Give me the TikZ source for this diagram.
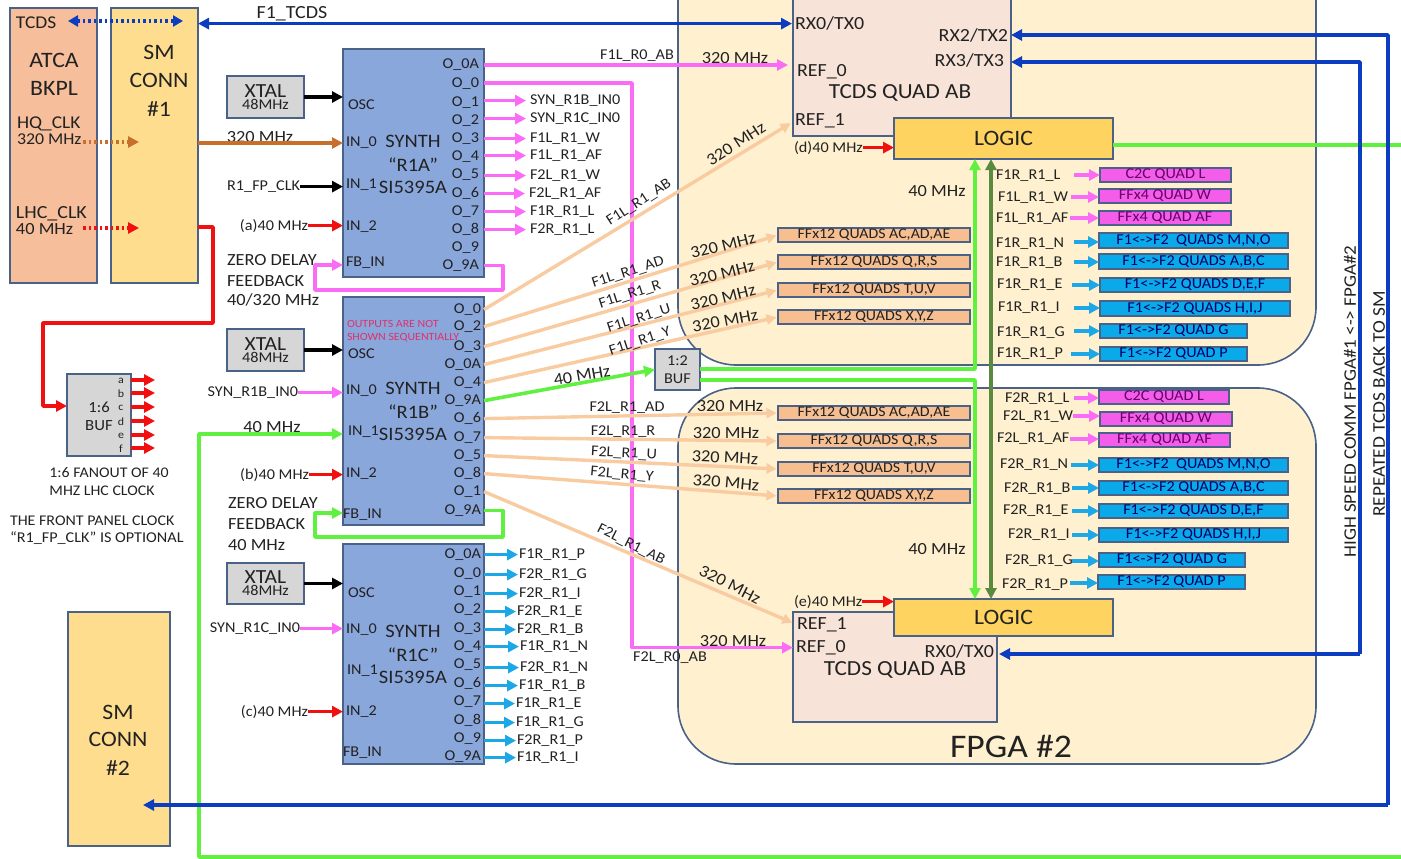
\documentclass[tikz,border=0pt]{standalone}
\usepackage{fontspec}
\setmainfont{Carlito}[FakeStretch=1.08]
\usetikzlibrary{arrows.meta,calc}
\catcode`\_=12
\definecolor{outl}{HTML}{4A6288}
\definecolor{ink}{HTML}{222222}
\definecolor{peach}{HTML}{F6BE9A}
\definecolor{smy}{HTML}{FFDD8E}
\definecolor{synb}{HTML}{8AA7DC}
\definecolor{gry}{HTML}{D6D6D6}
\definecolor{fpga}{HTML}{FFF0CF}
\definecolor{tcq}{HTML}{F8E3D8}
\definecolor{logc}{HTML}{FFD35F}
\definecolor{ffq}{HTML}{F7BE8F}
\definecolor{mag}{HTML}{F45CEA}
\definecolor{cyb}{HTML}{09A9EA}
\definecolor{pnk}{HTML}{FB6CF6}
\definecolor{org}{HTML}{F9CBA0}
\definecolor{brn}{HTML}{C6702C}
\definecolor{lgrn}{HTML}{60F040}
\definecolor{dgrn}{HTML}{5A8A42}
\definecolor{blu}{HTML}{0C3CC0}
\definecolor{cyn}{HTML}{1CA8E6}
\definecolor{rd}{HTML}{F01010}
\definecolor{crim}{HTML}{E0306A}
\tikzset{
  bxs/.style={draw=outl,line width=1.6pt,inner sep=0pt,outer sep=0pt,text=ink,align=center},
  txt/.style={inner sep=0pt,outer sep=0pt,text=ink,align=left,yshift=-0.6pt},
  tip/.style={-{Triangle[length=#1,width=#1]}},
  tip/.default=11pt,
  pinka/.style={tip,draw=pnk,line width=3.4pt},
  orga/.style={tip=10pt,draw=org,line width=3.4pt,shorten >=1.5pt},
  cyna/.style={tip,draw=cyn,line width=3.4pt},
  reda/.style={tip,draw=rd,line width=3.4pt},
  blka/.style={tip,draw=black,line width=3.4pt},
  grna/.style={tip,draw=lgrn,line width=3.6pt},
  blua/.style={tip,draw=blu,line width=3.4pt},
}
\newcounter{fe}
\newcommand\boxn[7][]{\pgfmathsetmacro\bcx{(#3+#5)/2}\pgfmathsetmacro\bcy{(#4+#6)/2}\pgfmathsetmacro\bw{#5-#3}\pgfmathsetmacro\bh{#6-#4}%
  \node[bxs,minimum width=\bw pt,minimum height=\bh pt,#1] (#2) at (\bcx,\bcy) {#7};}
\newcommand\tlab[6][]{\node[txt,anchor=west,font=\fontsize{#5}{#5}\selectfont,#1] (#2) at (#3,#4) {#6};}
\newcommand\trig[6][]{\node[txt,anchor=east,font=\fontsize{#5}{#5}\selectfont,#1] (#2) at (#3,#4) {#6};}
\newcommand\tcen[6][]{\node[txt,anchor=center,align=center,font=\fontsize{#5}{#5}\selectfont,#1] (#2) at (#3,#4) {#6};}
\newcommand\fromx[4]{\stepcounter{fe}\coordinate (fe\arabic{fe}) at (#2,#3);\draw[#1] (fe\arabic{fe}) -- (#4.west |- fe\arabic{fe});}
\newcommand\xtaltext{\fontsize{20}{21}\selectfont XTAL\\[0pt]\fontsize{15}{15}\selectfont 48MHz}
\begin{document}
\begin{tikzpicture}[x=1pt,y=-1pt]
\useasboundingbox (0,0) rectangle (1401,859);
\clip (0,0) rectangle (1401,859);

% FPGA bodies
\boxn[fill=fpga,rounded corners=58pt]{fpgaa}{678}{-70}{1316}{365}{}
\boxn[fill=fpga,rounded corners=58pt]{fpgab}{678}{388}{1316}{764}{}

% left blocks
\boxn[fill=peach]{atca}{10}{8}{97}{283}{}
\boxn[fill=smy]{smone}{111}{8}{198}{283}{}
\boxn[fill=smy]{smtwo}{68}{612}{170}{846}{}
\tcen{tatca}{54}{60}{22}{ATCA}
\tcen{tbkpl}{54}{88}{22}{BKPL}
\tlab{ttcds}{16}{22}{18}{TCDS}
\tlab{thq}{17}{123}{18}{HQ_CLK}
\tlab{thqf}{17}{139}{16.5}{320 MHz}
\tlab{tlhc}{16}{213}{18.5}{LHC_CLK}
\tlab{tlhcf}{16}{228}{17}{40 MHz}
\tcen{tsma}{159}{52}{22}{SM}
\tcen{tsmb}{159}{80}{22}{CONN}
\tcen{tsmc}{159}{108}{22}{\#1}
\tcen{tsmd}{118}{712}{22}{SM}
\tcen{tsme}{118}{739}{22}{CONN}
\tcen{tsmf}{118}{767}{22}{\#2}

% synths
\boxn[fill=synb]{syna}{343}{49}{484}{277}{}
\boxn[fill=synb]{synbb}{343}{297}{484}{525}{}
\boxn[fill=synb]{sync}{343}{544}{484}{764}{}

% xtals
\boxn[fill=gry]{xa}{227}{76}{304}{118}{\xtaltext}
\boxn[fill=gry]{xb}{227}{329}{304}{371}{\xtaltext}
\boxn[fill=gry]{xc}{227}{563}{304}{604}{\xtaltext}
\boxn[fill=gry]{bufs}{67}{374}{131}{456}{}
\tcen{bufa}{99}{407}{15.5}{1:6}
\tcen{bufb}{99}{425}{15.5}{BUF}
\boxn[fill=gry,font=\fontsize{15}{18}\selectfont]{buft}{655}{349}{700}{390}{1:2\\BUF}

% synth centre text
\tcen{ca}{413}{141}{19}{SYNTH}\tcen{cb}{413}{164}{19}{“R1A”}\tcen{cc}{413}{187}{19}{SI5395A}
\tcen{da}{413}{388}{19}{SYNTH}\tcen{db}{413}{411}{19}{“R1B”}\tcen{dc}{413}{434}{19}{SI5395A}
\tcen{ea}{413}{631}{19}{SYNTH}\tcen{eb}{413}{654}{19}{“R1C”}\tcen{ec}{413}{677}{19}{SI5395A}

% R1A ports
\tlab{aosc}{348}{104}{15}{OSC}\tlab{ain}{346}{142}{15}{IN_0}\tlab{aia}{346}{184}{15}{IN_1}\tlab{aib}{346}{226}{15}{IN_2}\tlab{afb}{346}{262}{15}{FB_IN}
\trig{ao0a}{479}{64}{15}{O_0A}\trig{ao0}{479}{83}{15}{O_0}\trig{ao1}{479}{102}{15}{O_1}\trig{ao2}{479}{120}{15}{O_2}\trig{ao3}{479}{138}{15}{O_3}\trig{ao4}{479}{156}{15}{O_4}\trig{ao5}{479}{174}{15}{O_5}\trig{ao6}{479}{193}{15}{O_6}\trig{ao7}{479}{211}{15}{O_7}\trig{ao8}{479}{229}{15}{O_8}\trig{ao9}{479}{247}{15}{O_9}\trig{ao9a}{479}{265}{15}{O_9A}
% R1B ports
\tlab{bosc}{348}{353}{15}{OSC}\tlab{bin}{346}{390}{15}{IN_0}\tlab{bia}{348}{431}{15}{IN_1}\tlab{bib}{346}{473}{15}{IN_2}\tlab{bfb}{343}{514}{15}{FB_IN}
\trig{bo0}{481}{309}{15}{O_0}\trig{bo2}{481}{326}{15}{O_2}\trig{bo3}{481}{346}{15}{O_3}\trig{bo0a}{481}{364}{15}{O_0A}\trig{bo4}{481}{382}{15}{O_4}\trig{bo9a}{481}{400}{15}{O_9A}\trig{bo6}{481}{418}{15}{O_6}\trig{bo7}{481}{437}{15}{O_7}\trig{bo5}{481}{455}{15}{O_5}\trig{bo8}{481}{473}{15}{O_8}\trig{bo1}{481}{491}{15}{O_1}\trig{bo9b}{481}{510}{15}{O_9A}
\tlab[text=crim]{note}{347}{323}{11}{OUTPUTS ARE NOT}
\tlab[text=crim]{notb}{347}{337}{11}{SHOWN SEQUENTIALLY}
% R1C ports
\tlab{cosc}{348}{592}{15}{OSC}\tlab{cin}{346}{629}{15}{IN_0}\tlab{cia}{347}{670}{15}{IN_1}\tlab{cib}{346}{711}{15}{IN_2}\tlab{cfb}{343}{752}{15}{FB_IN}
\trig{co0a}{481}{554}{15}{O_0A}\trig{co0}{481}{573}{15}{O_0}\trig{co1}{481}{591}{15}{O_1}\trig{co2}{481}{609}{15}{O_2}\trig{co3}{481}{628}{15}{O_3}\trig{co4}{481}{646}{15}{O_4}\trig{co5}{481}{664}{15}{O_5}\trig{co6}{481}{683}{15}{O_6}\trig{co7}{481}{701}{15}{O_7}\trig{co8}{481}{720}{15}{O_8}\trig{co9}{481}{738}{15}{O_9}\trig{co9a}{481}{756}{15}{O_9A}

% TCDS quads and logic
\boxn[fill=tcq]{qa}{793}{-30}{1011}{136}{}
\boxn[fill=tcq]{qb}{793}{612}{997}{722}{}
\boxn[fill=logc,font=\fontsize{22}{22}\selectfont]{loga}{894}{118}{1113}{159}{LOGIC}
\boxn[fill=logc,font=\fontsize{22}{22}\selectfont]{logb}{894}{599}{1113}{636}{LOGIC}
\tlab{qarx}{795}{23}{18.5}{RX0/TX0}
\tlab{qar0}{797}{71}{18.5}{REF_0}
\tcen{qat}{900}{92}{21.5}{TCDS QUAD AB}
\tlab{qar1}{795}{120}{18.5}{REF_1}
\trig{qart}{1008}{35}{18.5}{RX2/TX2}
\trig{qars}{1004}{60}{18.5}{RX3/TX3}
\tlab{qbr1}{797}{624}{18.5}{REF_1}
\tlab{qbr0}{796}{647}{18.5}{REF_0}
\tcen{qbt}{895}{669}{21.5}{TCDS QUAD AB}
\trig{qbrx}{994}{651}{18.5}{RX0/TX0}
\tcen{fpt}{1011}{746}{33}{FPGA \#2}

% FFx12 boxes
\tikzset{ffb/.style={fill=ffq,font=\fontsize{14.7}{14.7}\selectfont}}
\boxn[ffb]{fa}{778}{228}{970}{242}{FFx12 QUADS AC,AD,AE}
\boxn[ffb]{fb}{778}{255}{970}{269}{FFx12 QUADS Q,R,S}
\boxn[ffb]{fc}{778}{283}{970}{297}{FFx12 QUADS T,U,V}
\boxn[ffb]{fd}{778}{310}{970}{324}{FFx12 QUADS X,Y,Z}
\boxn[ffb]{ga}{778}{406}{970}{420}{FFx12 QUADS AC,AD,AE}
\boxn[ffb]{gb}{778}{434}{970}{448}{FFx12 QUADS Q,R,S}
\boxn[ffb]{gc}{778}{462}{970}{476}{FFx12 QUADS T,U,V}
\boxn[ffb]{gd}{778}{489}{970}{503}{FFx12 QUADS X,Y,Z}

% Right columns, FPGA 1
\tikzset{magb/.style={fill=mag,text=violet!80!black,font=\fontsize{15}{15}\selectfont},cybb/.style={fill=cyb,text=blue!40!black,font=\fontsize{15}{15}\selectfont}}
\boxn[magb]{ra}{1100}{168}{1231}{182}{C2C QUAD L}
\boxn[magb]{rb}{1099}{189}{1231}{203}{FFx4 QUAD W}
\boxn[magb]{rc}{1099}{211}{1231}{225}{FFx4 QUAD AF}
\boxn[cybb]{rd}{1099}{233}{1288}{248}{F1<->F2 \ QUADS M,N,O}
\boxn[cybb]{re}{1099}{254}{1288}{269}{F1<->F2 QUADS A,B,C}
\boxn[cybb]{rf}{1100}{278}{1290}{292}{F1<->F2 QUADS D,E,F}
\boxn[cybb]{rg}{1100}{301}{1290}{316}{F1<->F2 QUADS H,I,J}
\boxn[cybb]{rh}{1100}{324}{1247}{338}{F1<->F2 QUAD G}
\boxn[cybb]{ri}{1100}{347}{1247}{361}{F1<->F2 QUAD P}
\tlab{rla}{996}{175}{15}{F1R_R1_L}
\tlab{rlb}{998}{197}{15}{F1L_R1_W}
\tlab{rlc}{996}{218}{15}{F1L_R1_AF}
\tlab{rld}{996}{243}{15}{F1R_R1_N}
\tlab{rle}{996}{262}{15}{F1R_R1_B}
\tlab{rlf}{997}{284}{15}{F1R_R1_E}
\tlab{rlg}{998}{307}{15}{F1R_R1_I}
\tlab{rlh}{997}{332}{15}{F1R_R1_G}
\tlab{rli}{997}{353}{15}{F1R_R1_P}
\fromx{pinka}{1074}{175}{ra}
\fromx{pinka}{1071}{197}{rb}
\fromx{pinka}{1070}{218}{rc}
\fromx{cyna}{1074}{242}{rd}
\fromx{cyna}{1074}{262}{re}
\fromx{cyna}{1072}{285}{rf}
\fromx{cyna}{1074}{308}{rg}
\fromx{cyna}{1074}{331}{rh}
\fromx{cyna}{1071}{354}{ri}
% Right columns, FPGA 2
\boxn[magb]{sa}{1099}{390}{1229}{404}{C2C QUAD L}
\boxn[magb]{sb}{1100}{412}{1232}{426}{FFx4 QUAD W}
\boxn[magb]{sc}{1099}{433}{1230}{447}{FFx4 QUAD AF}
\boxn[cybb]{sd}{1099}{458}{1288}{472}{F1<->F2 \ QUADS M,N,O}
\boxn[cybb]{se}{1099}{481}{1288}{495}{F1<->F2 QUADS A,B,C}
\boxn[cybb]{sf}{1099}{504}{1288}{518}{F1<->F2 QUADS D,E,F}
\boxn[cybb]{sg}{1099}{528}{1288}{542}{F1<->F2 QUADS H,I,J}
\boxn[cybb]{sh}{1099}{553}{1245}{567}{F1<->F2 QUAD G}
\boxn[cybb]{si}{1098}{575}{1245}{589}{F1<->F2 QUAD P}
\tlab{sla}{1005}{398}{15}{F2R_R1_L}
\tlab{slb}{1003}{416}{15}{F2L_R1_W}
\tlab{slc}{997}{438}{15}{F2L_R1_AF}
\tlab{sld}{1000}{464}{15}{F2R_R1_N}
\tlab{sle}{1004}{488}{15}{F2R_R1_B}
\tlab{slf}{1003}{510}{15}{F2R_R1_E}
\tlab{slg}{1008}{534}{15}{F2R_R1_I}
\tlab{slh}{1005}{560}{15}{F2R_R1_G}
\tlab{sli}{1002}{584}{15}{F2R_R1_P}
\fromx{pinka}{1074}{398}{sa}
\fromx{pinka}{1073}{416}{sb}
\fromx{pinka}{1070}{439}{sc}
\fromx{cyna}{1071}{465}{sd}
\fromx{cyna}{1072}{488}{se}
\fromx{cyna}{1072}{511}{sf}
\fromx{cyna}{1072}{535}{sg}
\fromx{cyna}{1072}{561}{sh}
\fromx{cyna}{1070}{583}{si}

% inputs to synths
\tcen{xtp}{260}{136}{17}{320 MHz}
\trig{fp}{300}{186}{15}{R1_FP_CLK}
\trig{fa40}{308}{225}{15}{(a)40 MHz}
\tlab{zda}{227}{259}{17}{ZERO DELAY}\tlab{zdb}{227}{280}{17}{FEEDBACK}\tlab{zdc}{227}{299}{17}{40/320 MHz}
\trig{synbin}{298}{392}{15}{SYN_R1B_IN0}
\tcen{ft}{272}{426}{17}{40 MHz}
\trig{fb40}{309}{474}{15}{(b)40 MHz}
\tlab{zdd}{228}{502}{17}{ZERO DELAY}\tlab{zde}{228}{523}{17}{FEEDBACK}\tlab{zdf}{228}{544}{17}{40 MHz}
\trig{syncin}{300}{628}{15}{SYN_R1C_IN0}
\trig{fc40}{308}{711}{15}{(c)40 MHz}
\draw[blka] (xa.east) -- (syna.west |- xa.east);
\draw[blka] (xb.east) -- (synbb.west |- xb.east);
\draw[blka] (xc.east) -- (sync.west |- xc.east);
\draw[blka] (fp.east) -- (syna.west |- fp.east);
\draw[reda] (fa40.east) -- (syna.west |- fa40.east);
\draw[reda] (fb40.east) -- (synbb.west |- fb40.east);
\draw[reda] (fc40.east) -- (sync.west |- fc40.east);
\draw[pinka] (synbin.east) -- (synbb.west |- synbin.east);
\draw[pinka] (syncin.east) -- (sync.west |- syncin.east);
\coordinate (smhq) at (198,143);
\draw[tip,draw=brn,line width=4pt] (smhq) -- (syna.west |- smhq);

% backplane dotted
\coordinate (tcdsl) at (68,21); \coordinate (tcdsr) at (183,21);
\draw[{Triangle[length=10pt,width=11pt]}-{Triangle[length=10pt,width=11pt]},draw=blu,line width=3.4pt,dash pattern=on 2.5pt off 3pt] (tcdsl) -- (tcdsr);
\coordinate (hql) at (83,142); \coordinate (hqr) at (139,142);
\draw[tip,draw=brn,line width=3.4pt,dash pattern=on 2.5pt off 3pt] (hql) -- (hqr);
\coordinate (lhl) at (83,228); \coordinate (lhr) at (139,228);
\draw[tip,draw=rd,line width=3.4pt,dash pattern=on 2.5pt off 3pt] (lhl) -- (lhr);

% LHC clock to 1:6 buffer
\coordinate (lhs) at (198,227);
\draw[reda,line join=round] (lhs) -| (213,323) -| (43,406) -- (bufs.west |- 0,406);
% fan-out
\tcen{pa}{121}{380}{11}{a}\tcen{pb}{121}{393}{11}{b}\tcen{pc}{121}{407}{11}{c}\tcen{pd}{121}{421}{11}{d}\tcen{pe}{121}{435}{11}{e}\tcen{pf}{121}{448}{11}{f}
\foreach \n/\y in {a/380,b/393,c/407,d/421,e/435,f/448}{
  \coordinate (fo\n) at (155,\y);
  \draw[reda] (bufs.east |- fo\n) -- (fo\n);
}
\tcen{nta}{109}{472}{14.7}{1:6 FANOUT OF 40}
\tcen{ntb}{102}{490}{14.7}{MHZ LHC CLOCK}
\tlab{ntc}{10}{520}{14.8}{THE FRONT PANEL CLOCK}
\tlab{ntd}{10}{537}{15}{“R1_FP_CLK” IS OPTIONAL}

% R1A pink outs
\tlab{la}{530}{100}{15}{SYN_R1B_IN0}\tlab{lb}{530}{118}{15}{SYN_R1C_IN0}\tlab{lc}{530}{138}{15}{F1L_R1_W}\tlab{ld}{530}{155}{15}{F1L_R1_AF}\tlab{le}{530}{175}{15}{F2L_R1_W}\tlab{lf}{529}{193}{15}{F2L_R1_AF}\tlab{lg}{530}{211}{15}{F1R_R1_L}\tlab{lh}{530}{229}{15}{F2R_R1_L}
\foreach \n in {la,lb,lc,ld,le,lf,lg,lh}{\draw[pinka] (syna.east |- \n.west) -- ([xshift=-4pt]\n.west);}
\coordinate (ps0) at (484,65);
\tcen{lab0}{637}{55}{15}{F1L_R0_AB}
\tcen{lab320a}{735}{57}{17}{320 MHz}
\draw[pinka] (ps0) -- ([xshift=-9pt]qar0.west |- ps0);
\coordinate (ps1) at (484,83);
\coordinate (pv1) at (632,83);
\tcen{lab1}{670}{657}{15}{F2L_R0_AB}
\tcen{lab320b}{733}{640}{17}{320 MHz}
\draw[pinka,line join=round] (ps1) -- (pv1) |- (qb.west |- qbr0);
\draw[pinka,line join=round] (syna.east |- ao9a) -| (503,290) -| (315,265) -- (syna.west |- 0,265);

% R1C cyan outs
\tlab{ma}{519}{554}{15}{F1R_R1_P}\tlab{mb}{519}{574}{15}{F2R_R1_G}\tlab{mc}{519}{593}{15}{F2R_R1_I}\tlab{md}{517}{611}{15}{F2R_R1_E}\tlab{me}{517}{629}{15}{F2R_R1_B}\tlab{mf}{520}{646}{15}{F1R_R1_N}\tlab{mg}{520}{667}{15}{F2R_R1_N}\tlab{mh}{519}{685}{15}{F1R_R1_B}\tlab{mi}{516}{703}{15}{F1R_R1_E}\tlab{mj}{516}{722}{15}{F1R_R1_G}\tlab{mk}{517}{740}{15}{F2R_R1_P}\tlab{ml}{517}{757}{15}{F1R_R1_I}
\foreach \n in {ma,mb,mc,md,me,mf,mg,mh,mi,mj,mk,ml}{\draw[cyna] (sync.east |- \n.west) -- ([xshift=-1pt]\n.west);}

% R1B orange outs
\draw[orga,shorten >=5pt] (synbb.east |- bo0) -- (qar1.west);
\draw[orga] (synbb.east |- bo2) -- (fa.west);
\draw[orga] (synbb.east |- bo3) -- (fb.west);
\draw[orga] (synbb.east |- bo0a) -- (fc.west);
\draw[orga] (synbb.east |- bo4) -- (fd.west);
\draw[orga] (synbb.east |- bo6) -- (ga.west);
\draw[orga] (synbb.east |- bo7) -- (gb.west);
\draw[orga] (synbb.east |- bo5) -- (gc.west);
\draw[orga] (synbb.east |- bo8) -- (gd.west);
\draw[orga,shorten >=5pt] (synbb.east |- bo1) -- (qbr1.west);

\tcen[rotate=33]{f1a}{639}{202}{15}{F1L_R1_AB}
\tcen[rotate=18]{f1b}{628}{272}{15}{F1L_R1_AD}
\tcen[rotate=18]{f1c}{630}{294}{15}{F1L_R1_R}
\tcen[rotate=18]{f1d}{639}{318}{15}{F1L_R1_U}
\tcen[rotate=18]{f1e}{640}{341}{15}{F1L_R1_Y}
\tcen[rotate=33]{m1a}{736}{143}{17}{320 MHz}
\tcen[rotate=14]{m1b}{723}{245}{17}{320 MHz}
\tcen[rotate=14]{m1c}{722}{273}{17}{320 MHz}
\tcen[rotate=14]{m1d}{723}{297}{17}{320 MHz}
\tcen[rotate=11]{m1e}{725}{320}{17}{320 MHz}
\tcen{f2a}{627}{407}{15}{F2L_R1_AD}
\tcen{f2b}{623}{431}{15}{F2L_R1_R}
\tcen[rotate=-3]{f2c}{624}{453}{15}{F2L_R1_U}
\tcen[rotate=-5]{f2d}{622}{474}{15}{F2L_R1_Y}
\tcen[rotate=-27]{f2e}{631}{544}{15}{F2L_R1_AB}
\tcen{m2a}{730}{405}{17}{320 MHz}
\tcen{m2b}{726}{432}{17}{320 MHz}
\tcen[rotate=-3]{m2c}{725}{457}{17}{320 MHz}
\tcen[rotate=-5]{m2d}{726}{482}{17}{320 MHz}
\tcen[rotate=-27]{m2e}{730}{584}{17}{320 MHz}

% green
\draw[grna] (synbb.east |- bo9a) -- (buft.west);
\tcen[rotate=10]{g40}{582}{375}{17}{40 MHz}
\coordinate (gu) at (975,369); \coordinate (gv) at (975,380);
\coordinate (buo) at (700,369); \coordinate (bup) at (700,380);
\draw[grna,line join=round] (buo) -- (gu) -- (loga.south -| gu);
\draw[grna,line join=round] (bup) -- (gv) -- (logb.north -| gv);
\coordinate (dgx) at (991,380);
\draw[{Triangle[length=11pt,width=11pt]}-{Triangle[length=11pt,width=11pt]},draw=dgrn,line width=4pt] (loga.south -| dgx) -- (logb.north -| dgx);
\tcen{g41}{937}{190}{17}{40 MHz}
\tcen{g42}{937}{548}{17}{40 MHz}
\coordinate (gre) at (1401,145);
\coordinate (grf) at (1401,857);
\coordinate (grg) at (199,857);
\draw[draw=lgrn,line width=3.6pt] (loga.east |- gre) -- (gre);
\draw[grna,line join=round] (grf) -- (grg) |- (synbb.west |- 0,434);
\draw[grna,line join=round] (synbb.east |- bo9b) -| (503,537) -| (315,513) -- (synbb.west |- 0,513);

% logic red
\tlab{d40}{794}{147}{15}{(d)40 MHz}
\tlab{e40}{794}{601}{15}{(e)40 MHz}
\draw[reda] (d40.east) -- (loga.west |- d40.east);
\draw[reda] (e40.east) -- (logb.west |- e40.east);

% blue highways
\tcen{ltc}{292}{13}{18.5}{F1_TCDS}
\draw[{Triangle[length=11pt,width=11pt]}-{Triangle[length=11pt,width=11pt]},draw=blu,line width=3.4pt] (smone.east |- qarx) -- ([xshift=-3pt]qarx.west);
\coordinate (ba) at (1388,35); \coordinate (bb) at (1388,805);
\coordinate (bc) at (1360,62); \coordinate (bd) at (1360,654);
\draw[blua,line join=round] (bb) -- (ba) -- ([xshift=3pt]qart.east |- ba);
\draw[blua] (bb) -- ([xshift=-27pt]smtwo.east |- bb);
\draw[blua,line join=round] (bd) -- (bc) -- ([xshift=7pt]qars.east |- bc);
\draw[blua] (bd) -- ([xshift=2pt]qb.east |- bd);

% side text
\tcen[rotate=90]{vta}{1350}{401}{17.6}{HIGH SPEED COMM FPGA\#1 <-> FPGA\#2}
\tcen[rotate=90]{vtb}{1379}{403}{17.9}{REPEATED TCDS BACK TO SM}
\end{tikzpicture}
\end{document}
